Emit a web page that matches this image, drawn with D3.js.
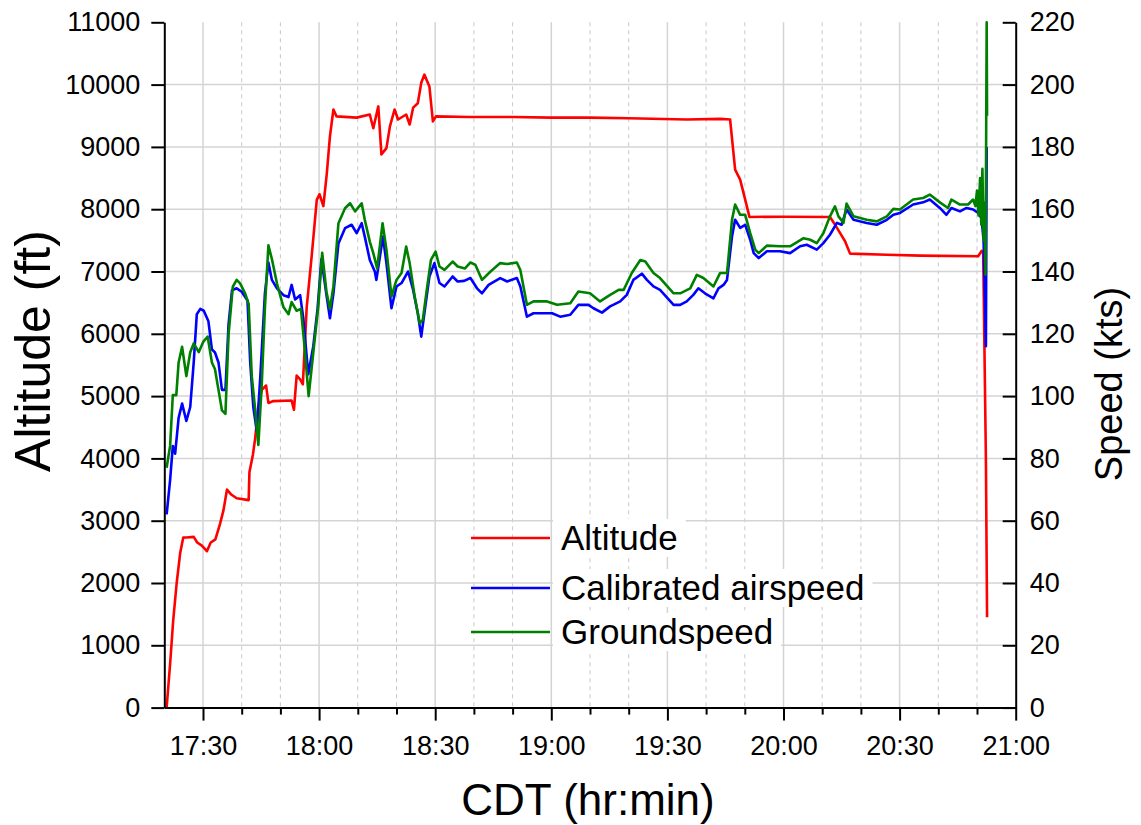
<!DOCTYPE html>
<html>
<head>
<meta charset="utf-8">
<script src="https://cdn.jsdelivr.net/npm/d3@7"></script>
<style>
  body { margin: 0; background: #fff; }
  svg { display: block; font-family: Arial, "Liberation Sans", sans-serif; }
</style>
</head>
<body>
<div id="chart"></div>
<script>
// all times are minutes after 17:20 CDT
const startTime = new Date(2000, 0, 1, 17, 20);

const altTime = [0.6, 1.5, 2.3, 3.2, 4.1, 4.9, 5.8, 7.6, 8.5, 9.7, 11, 12, 13.2, 14.4, 15.3, 16.2, 17.3, 18.7, 21.8, 22,
  22.9, 23.5, 24.3, 25.2, 26.3, 26.9, 28.2, 32.9, 33.5, 34.2, 35.1, 35.8, 36.8, 38.1, 39.4, 40.1, 41.1, 42, 42.8, 43.7,
  44.5, 49.7, 53.1, 54, 55.3, 56.1, 57.4, 58.3, 59.5, 60.4, 62.5, 63.4, 64.3, 65.5, 66.4, 67.2, 68.5, 69.4, 70.2, 78.8,
  90, 100, 110, 120, 135, 143.7, 146.2, 147.5, 148.8, 150.1, 151.2, 160, 172, 173.3, 174.6, 175.9, 177.2, 186.7, 195.3, 210.3,
  211.2, 211.6, 212.3, 212.6];
const altFt = [0, 700, 1400, 2000, 2480, 2730, 2730, 2740, 2650, 2600, 2510, 2650, 2700, 2950, 3170, 3500, 3420, 3360, 3330, 3780,
  4060, 4330, 4830, 5100, 5170, 4890, 4920, 4930, 4780, 5330, 5270, 5190, 6430, 7260, 8150, 8240, 8050, 8580, 9170, 9600,
  9490, 9470, 9520, 9300, 9650, 8880, 8980, 9330, 9600, 9440, 9520, 9360, 9630, 9700, 10030, 10160, 9970, 9410, 9490, 9480,
  9480, 9470, 9470, 9460, 9440, 9450, 9440, 8636, 8475, 8154, 7876, 7880, 7876, 7753, 7619, 7485, 7287, 7270, 7255, 7245,
  7330, 7300, 4000, 1450];

const casTime = [0.6, 1.5, 2.2, 2.8, 3.7, 4.6, 5.7, 6.7, 7.6, 8.4, 9.3, 10.2, 11.4, 12.3, 13.1, 14, 14.9, 15.8, 16.6, 17.5,
  18.7, 20, 21.5, 22.2, 23, 23.9, 24.8, 26, 26.9, 27.8, 29.1, 30.8, 32.1, 32.9, 33.8, 35.1, 35.9, 37.2, 38.5, 39.6,
  40.6, 41.9, 42.8, 43.7, 45, 46.7, 48.4, 49.7, 51, 51.8, 53.1, 54.4, 54.8, 56.5, 57.4, 58.7, 60, 61.3, 63, 64.3,
  65.5, 66.4, 67.2, 68.5, 69.8, 71.1, 72.4, 74.5, 75.8, 77.5, 79.1, 80.8, 82.1, 83.8, 86.8, 88.6, 91.1, 92, 93.7, 95.4,
  98.9, 100.2, 102.3, 104.9, 107, 109.6, 110.9, 113.1, 115.2, 117.8, 119.5, 121.2, 123.4, 124.7, 126.4, 128.1, 131.6, 133.3, 135, 136.7,
  138, 139.7, 141.9, 143.2, 144.5, 145.4, 146.7, 147.5, 148.8, 150.1, 151.4, 152.3, 153.6, 155.7, 159.1, 161.7, 164.3, 166, 168.6, 170.3,
  172, 173.8, 175, 176.3, 178.1, 181.5, 184.1, 186.7, 188.4, 190.1, 193.5, 196.1, 197.8, 200.4, 202.1, 203.4, 205.6, 207.3, 209, 210.3,
  211.2, 211.7, 212.1, 212.3, 212.5];
const casKts = [62, 73, 84, 81.5, 93, 97.6, 92, 96.5, 110.8, 126.3, 128, 127.4, 124, 115, 114, 110.8, 102, 102, 123, 134,
  134.6, 133.5, 130.7, 110.8, 96.5, 88.7, 106, 133, 142.9, 137.3, 134.6, 132.4, 131.8, 135.7, 131, 132.4, 125.2, 107, 116, 128,
  144, 132.5, 125, 133, 149, 153.9, 155, 152.3, 155.5, 151.2, 143.7, 140, 137.3, 151.2, 142.7, 128.2, 135.2, 136.3, 140, 134.1,
  126.6, 119.1, 126.6, 138.4, 142.7, 136.3, 135.2, 138.4, 136.8, 137, 137.9, 134.6, 133, 135.7, 137.9, 136.8, 137.9, 135.2, 125.5, 126.6,
  126.6, 126.6, 125.5, 126.1, 129.3, 129.3, 128.2, 126.8, 128.8, 130.4, 132.5, 137.3, 139.3, 137.3, 135.2, 134.1, 129.3, 129.3, 130.4, 132.5,
  134.6, 133, 131.4, 134.6, 135.7, 137.3, 151.3, 156.6, 154, 155, 150.2, 145.9, 144.3, 146.5, 146.5, 145.9, 148.1, 148.6, 147, 149.1,
  151.8, 155.6, 155, 159.9, 156.6, 155.6, 155, 156.6, 158.2, 158.8, 161.5, 162.2, 163.1, 160.4, 158.2, 160.4, 159.3, 160.4, 159.9, 158.8,
  157, 150, 128, 116, 180];

const gsTime = [0.6, 1.5, 2.2, 3.1, 3.7, 4.6, 5.7, 6.7, 7.6, 8.9, 10.1, 11.2, 12.3, 13.1, 14, 14.9, 15.8, 16.6, 17.7, 18.7,
  19.6, 20.9, 21.8, 22.6, 23.5, 24.3, 25.2, 26, 26.9, 27.8, 29.1, 30.8, 32.1, 32.9, 34.2, 35.3, 36.2, 37.3, 38.5, 39.8,
  40.8, 41.9, 42.8, 43.7, 45, 46.7, 48, 49.3, 51, 51.8, 53.1, 54, 55, 56.4, 57.4, 58.7, 60, 61.3, 62.5, 63.4,
  64.7, 66, 66.8, 67.7, 68.9, 70.1, 71.1, 72.4, 74.5, 75.8, 77.7, 79.1, 80.4, 82.1, 84.3, 86.8, 88.6, 91.1, 92, 93.7,
  95.4, 98.9, 101.5, 104.9, 107, 110, 112.6, 115.2, 117.4, 118.7, 120.8, 123, 124.3, 126.4, 128.1, 131.6, 133.3, 135.9, 137.6, 139.3,
  141.9, 143.6, 145.4, 146.7, 147.5, 148.8, 150.1, 151.4, 152.7, 153.6, 155.7, 159.1, 161.7, 165.2, 166.9, 168.6, 170.3, 172, 173.3, 174.2,
  175.5, 176.3, 178.1, 181.5, 184.1, 186.7, 188.4, 190.1, 193.5, 196.1, 197.8, 200.4, 202.5, 203.4, 205.6, 207.7, 209, 209.6, 210, 210.4,
  210.8, 211.1, 211.4, 211.7, 211.9, 212.2, 212.5, 212.6];
const gsKts = [77, 84, 100.3, 100.3, 110.8, 115.8, 106.4, 114.1, 116.9, 114.1, 117.5, 119.1, 110.8, 108.6, 102, 95.4, 94.3, 119.7, 135.1, 137.3,
  136.2, 132.9, 129.6, 106.4, 95.4, 84.3, 104.2, 128.5, 148.4, 144, 136.2, 128.5, 126.3, 130.2, 127.4, 128, 116.4, 100, 114, 129,
  146, 133.5, 128, 135.2, 155.5, 160.3, 161.9, 159.3, 161.9, 156.6, 149.6, 145.9, 141, 155.5, 147, 132, 137.3, 139.5, 148, 142.7,
  132, 123.4, 124.5, 133, 143.7, 146.4, 141.6, 140.5, 143.2, 141.6, 141, 142.9, 142.1, 137.3, 140, 142.7, 142.4, 142.9, 140.5, 129.3,
  130.4, 130.4, 129.3, 129.8, 133.6, 133, 130.4, 132.5, 134.1, 134.1, 139.5, 143.7, 143.2, 139.5, 137.9, 133, 133, 134.6, 138.9, 137.9,
  135.2, 139.5, 139.5, 156.6, 161.5, 158.2, 158.2, 152.3, 147, 145.9, 148.3, 148.1, 148.1, 150.7, 150.2, 149.1, 152.3, 157.7, 160.9, 157.7,
  155.6, 161.8, 157.7, 156.6, 156.1, 157.7, 160.1, 159.9, 163.1, 163.6, 164.7, 162.2, 160.4, 163.1, 161.5, 161.5, 163.1, 161, 166, 158,
  170, 155, 173, 150, 162, 139, 220, 190];

const altTicks = d3.range(0, 11001, 1000);
const spdTicks = d3.range(0, 221, 20);
const legendNames = ["Altitude", "Calibrated airspeed", "Groundspeed"];
const colors = ["#ff0000", "#0000ff", "#008000"];

const width = 1141, height = 825;
const plotL = 164.3, plotR = 1015.7, plotT = 22.3, plotB = 707.6;

const atMin = m => new Date(startTime.getTime() + m * 60000);

const x = d3.scaleTime().domain([startTime, atMin(220)]).range([plotL, plotR]);
const yAlt = d3.scaleLinear().domain([0, 11000]).range([plotB, plotT]);
const ySpd = d3.scaleLinear().domain([0, 220]).range([plotB, plotT]);

const majorTimes = d3.timeMinute.every(30).range(atMin(10), atMin(220.1));
const minorTimes = d3.timeMinute.every(10).range(atMin(10), atMin(220.1))
  .filter(d => d.getMinutes() % 30 !== 0);

const svg = d3.select("#chart").append("svg")
  .attr("width", width)
  .attr("height", height);

// grid
const grid = svg.append("g");
grid.selectAll("line.minor").data(minorTimes).join("line")
  .attr("x1", d => x(d)).attr("x2", d => x(d))
  .attr("y1", plotT).attr("y2", plotB)
  .attr("stroke", "#c8c8c8").attr("stroke-width", 1).attr("stroke-dasharray", "4,4");
grid.selectAll("line.major").data(majorTimes.slice(0, -1)).join("line")
  .attr("x1", d => x(d)).attr("x2", d => x(d))
  .attr("y1", plotT).attr("y2", plotB)
  .attr("stroke", "#d4d4d4").attr("stroke-width", 1.5);
grid.selectAll("line.h").data(altTicks.slice(1, -1)).join("line")
  .attr("x1", plotL).attr("x2", plotR)
  .attr("y1", d => yAlt(d)).attr("y2", d => yAlt(d))
  .attr("stroke", "#d4d4d4").attr("stroke-width", 1.5);

// series
const series = [
  {t: altTime, v: altFt, y: yAlt},
  {t: casTime, v: casKts, y: ySpd},
  {t: gsTime, v: gsKts, y: ySpd}
];
series.forEach((s, k) => {
  const line = d3.line().x(i => x(atMin(s.t[i]))).y(i => s.y(s.v[i]));
  svg.append("path")
    .attr("d", line(d3.range(s.t.length)))
    .attr("fill", "none")
    .attr("stroke", colors[k])
    .attr("stroke-width", 2.6)
    .attr("stroke-linejoin", "round");
});

// legend
const legend = svg.append("g");
const legendY = [538, 588, 632];
legendNames.forEach((name, i) => {
  const txt = legend.append("text")
    .attr("x", 561).attr("y", legendY[i] + 12)
    .attr("font-size", 35).text(name);
  const bb = txt.node().getBBox();
  legend.insert("rect", "text")
    .attr("x", 553).attr("y", legendY[i] - 19)
    .attr("width", bb.x + bb.width - 553 + 8).attr("height", 38)
    .attr("fill", "#fff");
  legend.append("line")
    .attr("x1", 471).attr("x2", 550)
    .attr("y1", legendY[i]).attr("y2", legendY[i])
    .attr("stroke", colors[i]).attr("stroke-width", 2.6);
});

// axes
const styleAxis = g => {
  g.attr("font-family", null);
  g.selectAll("path.domain").attr("stroke", "#000").attr("stroke-width", 2);
  g.selectAll(".tick line").attr("stroke", "#000").attr("stroke-width", 2);
  g.selectAll(".tick text").attr("font-size", 27).attr("fill", "#000");
};

svg.append("g")
  .attr("transform", `translate(0,${plotB})`)
  .call(d3.axisBottom(x).tickValues(minorTimes).tickSize(7).tickFormat("").tickSizeOuter(0))
  .call(styleAxis);
svg.append("g")
  .attr("transform", `translate(0,${plotB})`)
  .call(d3.axisBottom(x).tickValues(majorTimes).tickSize(13).tickPadding(15)
    .tickFormat(d3.timeFormat("%H:%M")).tickSizeOuter(0))
  .call(styleAxis);
svg.append("g")
  .attr("transform", `translate(${plotL},0)`)
  .call(d3.axisLeft(yAlt).tickValues(altTicks).tickSize(13).tickPadding(11)
    .tickFormat(d3.format("d")).tickSizeOuter(0))
  .call(styleAxis);
svg.append("g")
  .attr("transform", `translate(${plotR},0)`)
  .call(d3.axisRight(ySpd).tickValues(spdTicks).tickSize(-13).tickPadding(14)
    .tickFormat(d3.format("d")).tickSizeOuter(0))
  .call(styleAxis);

// titles
svg.append("text")
  .attr("transform", `translate(50,351) rotate(-90)`)
  .attr("text-anchor", "middle").attr("font-size", 50)
  .text("Altitude (ft)");
svg.append("text")
  .attr("transform", `translate(1122,384) rotate(-90)`)
  .attr("text-anchor", "middle").attr("font-size", 38)
  .text("Speed (kts)");
svg.append("text")
  .attr("x", 588).attr("y", 815)
  .attr("text-anchor", "middle").attr("font-size", 44)
  .text("CDT (hr:min)");
</script>
</body>
</html>
